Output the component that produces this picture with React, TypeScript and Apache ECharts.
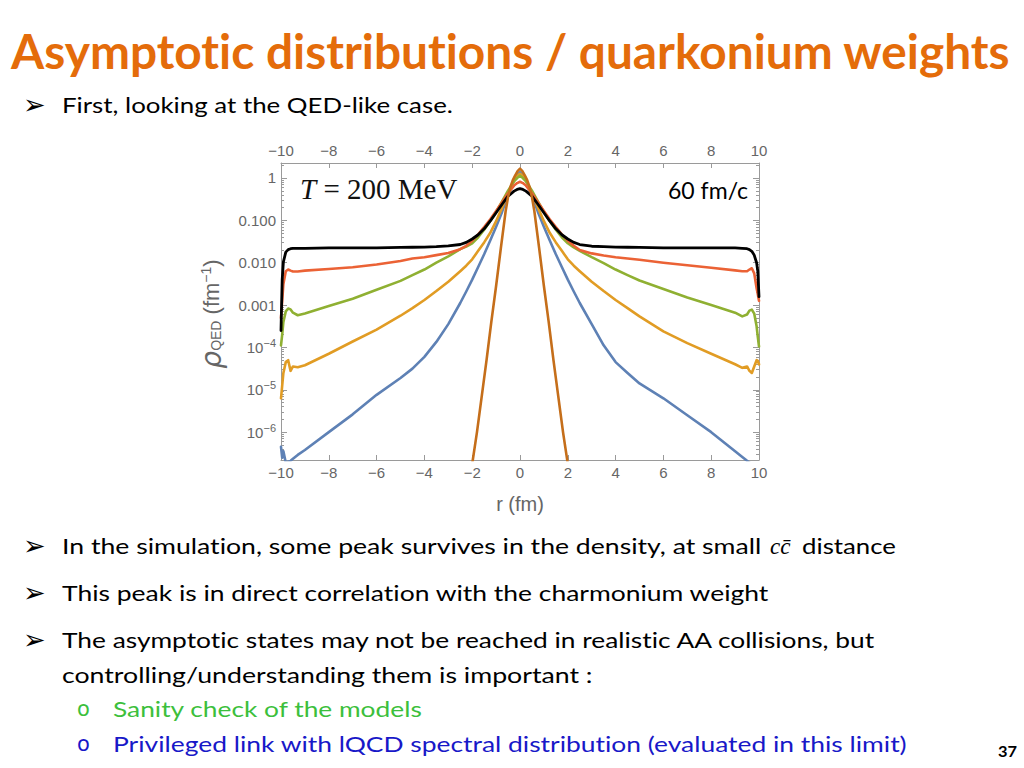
import React, { useEffect, useRef } from 'react';
import * as echarts from 'echarts';

// ---------- data ----------
const rGrid = [-10, -9.95, -9.9, -9.8, -9.7, -9.6, -9.5, -9.3, -9, -8, -7, -6, -5, -4.5, -4, -3.5, -3, -2.5, -2.25, -2, -1.75, -1.5, -1.25, -1, -0.75, -0.5, -0.25, -0.12,
  0,
  0.12, 0.25, 0.5, 0.75, 1, 1.25, 1.5, 1.75, 2, 2.25, 2.5, 3, 3.5, 4, 4.5, 5, 6, 7, 8, 9, 9.3, 9.5, 9.6, 9.7, 9.8, 9.9, 9.95, 10];

const blackVals = [2.5e-4, 4.0e-3, 0.0105, 0.0178, 0.0204, 0.0214, 0.0219, 0.0219, 0.0219, 0.0224, 0.0224, 0.0224, 0.0229, 0.0232, 0.0234, 0.024, 0.0251, 0.0269, 0.0302, 0.0363, 0.0457, 0.0631, 0.0955, 0.151, 0.24, 0.372, 0.49, 0.537,
  0.562,
  0.537, 0.49, 0.372, 0.24, 0.151, 0.0955, 0.0631, 0.0457, 0.0363, 0.0302, 0.0269, 0.0245, 0.024, 0.0234, 0.0232, 0.0229, 0.0224, 0.0224, 0.0224, 0.0224, 0.0219, 0.0214, 0.0204, 0.0186, 0.0151, 0.01, 0.0063, 0.00158];

const redVals = [5.0e-4, 1.26e-3, 3.16e-3, 6.3e-3, 6.9e-3, 6.5e-3, 6.2e-3, 6.2e-3, 6.5e-3, 7.1e-3, 7.8e-3, 9.1e-3, 0.011, 0.0126, 0.0135, 0.0151, 0.017, 0.0209, 0.0251, 0.0331, 0.0468, 0.0692, 0.105, 0.166, 0.269, 0.437, 0.661, 0.759,
  0.813,
  0.759, 0.661, 0.437, 0.269, 0.166, 0.105, 0.0692, 0.0468, 0.0331, 0.0251, 0.02, 0.0166, 0.0148, 0.0135, 0.0126, 0.0117, 0.01, 8.7e-3, 7.6e-3, 6.6e-3, 6.3e-3, 6.3e-3, 6.9e-3, 7.4e-3, 5.6e-3, 2.5e-3, 1.8e-3, 1.26e-3];

const greenVals = [1.12e-4, 2.0e-4, 4.0e-4, 7.1e-4, 8.3e-4, 7.9e-4, 6.6e-4, 5.75e-4, 6.3e-4, 9.55e-4, 1.41e-3, 2.29e-3, 3.72e-3, 5.1e-3, 6.9e-3, 0.01, 0.0141, 0.0209, 0.024, 0.0288, 0.0398, 0.0603, 0.0955, 0.158, 0.282, 0.501, 0.832, 1.0,
  1.122,
  1.0, 0.832, 0.501, 0.282, 0.158, 0.0955, 0.0603, 0.0398, 0.0288, 0.0229, 0.0191, 0.0135, 9.8e-3, 6.9e-3, 5.1e-3, 3.8e-3, 2.4e-3, 1.51e-3, 1.0e-3, 6.6e-4, 5.4e-4, 6.0e-4, 7.4e-4, 7.8e-4, 6.3e-4, 3.16e-4, 1.78e-4, 1.05e-4];

const yellowVals = [6.3e-6, 1.26e-5, 2.5e-5, 4.5e-5, 5.0e-5, 2.8e-5, 3.55e-5, 3.4e-5, 3.8e-5, 7.1e-5, 1.38e-4, 2.63e-4, 5.6e-4, 8.5e-4, 1.32e-3, 2.14e-3, 3.55e-3, 6.3e-3, 8.5e-3, 0.012, 0.0191, 0.0302, 0.0501, 0.0955, 0.2, 0.447, 0.891, 1.096,
  1.26,
  1.096, 0.891, 0.447, 0.2, 0.0955, 0.0501, 0.0302, 0.0191, 0.012, 8.5e-3, 6.3e-3, 3.55e-3, 2.14e-3, 1.32e-3, 8.5e-4, 5.4e-4, 2.4e-4, 1.26e-4, 7.1e-5, 4.0e-5, 3.3e-5, 3.55e-5, 2.8e-5, 2.5e-5, 3.55e-5, 5.0e-5, 4.8e-5, 4.0e-5];

const blueVals = [4.5e-7, 2.5e-7, 3.55e-7, 1.9e-7, 2.0e-7, 2.1e-7, 2.34e-7, 2.9e-7, 3.8e-7, 1.0e-6, 2.63e-6, 7.6e-6, 1.9e-5, 3.16e-5, 6.0e-5, 1.35e-4, 3.55e-4, 1.12e-3, 2.09e-3, 3.98e-3, 7.9e-3, 0.0158, 0.0331, 0.0708, 0.158, 0.398, 0.891, 1.175,
  1.38,
  1.175, 0.891, 0.398, 0.158, 0.0708, 0.0331, 0.0158, 7.9e-3, 3.98e-3, 2.09e-3, 1.12e-3, 3.55e-4, 1.12e-4, 4.5e-5, 2.5e-5, 1.41e-5, 6.3e-6, 2.5e-6, 1.0e-6, 3.55e-7, 2.6e-7, 2.1e-7, 1.9e-7, 1.74e-7, 1.58e-7, 1.45e-7, 1.38e-7, 1.32e-7];

const rBrown = [-2.2, -2.0, -1.8, -1.6, -1.4, -1.2, -1.0, -0.8, -0.6, -0.5, -0.4, -0.3, -0.2, -0.1, 0, 0.1, 0.2, 0.3, 0.4, 0.5, 0.6, 0.8, 1.0, 1.2, 1.4, 1.6, 1.8, 2.0, 2.2];
const brownVals = [3.2e-8, 1.78e-7, 1.0e-6, 7.1e-6, 5.0e-5, 4.0e-4, 2.82e-3, 0.0224, 0.166, 0.355, 0.617, 0.891, 1.148, 1.445,
  1.66,
  1.445, 1.148, 0.891, 0.617, 0.355, 0.166, 0.0224, 2.82e-3, 4.0e-4, 5.0e-5, 7.1e-6, 1.0e-6, 1.78e-7, 3.2e-8];

const yMajor = [1e-6, 1e-5, 1e-4, 1e-3, 1e-2, 1e-1, 1];
const yMajorLabels = ['10{s|−6}', '10{s|−5}', '10{s|−4}', '0.001', '0.010', '0.100', '1'];

const TITLE = 'Asymptotic distributions / quarkonium weights';
const SUB = 'First, looking at the QED-like case.';
const B1a = 'In the simulation, some peak survives in the density, at small';
const B1m = 'cc\u0304';
const B1b = 'distance';
const B2 = 'This peak is in direct correlation with the charmonium weight';
const B3a = 'The asymptotic states may not be reached in realistic AA collisions, but';
const B3b = 'controlling/understanding them is important :';
const S1 = 'Sanity check of the models';
const S2 = 'Privileged link with lQCD spectral distribution (evaluated in this limit)';
const PAGE = '37';

// ---------- style ----------
const Y_MIN = 2.2e-7;
const Y_MAX = 2.26;
const FRAME = '#9a9a9a';
const LBL = '#666666';
const ORANGE = '#E46C0A';
const GREEN = '#3CBF3C';
const BLUE = '#1818C8';
const BODY_FONT = 'Lato';

const yMinor: number[] = [];
for (let d = -7; d <= 0; d++) {
  for (let k = 2; k <= 9; k++) {
    const v = k * Math.pow(10, d);
    if (v >= Y_MIN && v <= Y_MAX) yMinor.push(v);
  }
}

function App() {
  const ref = useRef<HTMLDivElement>(null);

  useEffect(() => {
    if (!ref.current) return;
    const chart = echarts.init(ref.current, undefined, { renderer: 'svg' });

    const ctx = document.createElement('canvas').getContext('2d') as CanvasRenderingContext2D;
    const measure = (text: string, weight: string, size: number, family: string, style = 'normal') => {
      ctx.font = `${style} ${weight} ${size}px ${family}`;
      return ctx.measureText(text).width;
    };
    const fit = (text: string, x0: number, x1: number, y: number, size: number, color = '#000', weight = 'normal', family = BODY_FONT, style = 'normal') => {
      const w = measure(text, weight, size, family, style);
      return {
        type: 'text', x: x0, y, scaleX: (x1 - x0) / w, silent: true,
        style: { text, fontSize: size, fontFamily: family, fontWeight: weight, fontStyle: style, fill: color, align: 'left', verticalAlign: 'middle' },
      };
    };
    const plain = (text: string, x: number, y: number, size: number, color = '#000', align = 'left', family = BODY_FONT, weight = 'normal') => ({
      type: 'text', x, y, silent: true,
      style: { text, fontSize: size, fontFamily: family, fontWeight: weight, fill: color, align, verticalAlign: 'middle' },
    });
    const arrow = (y: number) => plain('\u27A2', 23, y, 27, '#000', 'left', 'DejaVu Sans');

    const graphics: any[] = [
      fit(TITLE, 11, 1012, 51, 47, ORANGE, 'bold'),
      arrow(104), fit(SUB, 62, 453, 104, 22),
      arrow(545), fit(B1a, 62, 762, 545, 22),
      { type: 'text', x: 770, y: 546, silent: true, style: { text: B1m, fontSize: 23, fontFamily: 'Liberation Serif', fontStyle: 'italic', fill: '#000', align: 'left', verticalAlign: 'middle' } },
      fit(B1b, 802, 896, 545, 22),
      arrow(592), fit(B2, 62, 770, 592, 22),
      arrow(639), fit(B3a, 62, 878, 639, 22),
      fit(B3b, 62, 593, 674, 22),
      plain('o', 77, 709, 21, GREEN, 'left', 'DejaVu Sans'), fit(S1, 113, 423, 708, 22, GREEN),
      plain('o', 77, 744, 21, BLUE, 'left', 'DejaVu Sans'), fit(S2, 113, 908, 743, 22, BLUE),
      fit(PAGE, 998, 1017, 751, 16, '#000', 'bold'),
      // chart annotations
      { type: 'text', x: 300, y: 189, silent: true, style: { text: '{i|T} = 200 MeV', fontSize: 29, fontFamily: 'Liberation Serif', fill: '#111', align: 'left', verticalAlign: 'middle', rich: { i: { fontSize: 29, fontFamily: 'Liberation Serif', fontStyle: 'italic', fill: '#111' } } } },
      fit('60 fm/c', 668, 748, 190, 23),
      plain('r (fm)', 520, 504, 20, LBL, 'center', 'Liberation Sans'),
      {
        type: 'text', x: 211, y: 314, rotation: Math.PI / 2, silent: true,
        style: {
          text: '{r|ρ}{q|QED} (fm{s|−1})', fontSize: 22, fontFamily: 'Liberation Sans', fill: LBL, align: 'center', verticalAlign: 'middle',
          rich: {
            r: { fontSize: 28, fontFamily: 'DejaVu Sans', fontStyle: 'italic', fill: LBL },
            q: { fontSize: 14, fontFamily: 'Liberation Sans', fill: LBL, padding: [10, 0, 0, 0] },
            s: { fontSize: 14, fontFamily: 'Liberation Sans', fill: LBL, padding: [0, 0, 10, 0] },
          },
        },
      },
    ];

    const fmtX = (v: number) => (v < 0 ? '\u2212' + Math.abs(v) : String(v));
    const xBase = (pos: string) => ({
      type: 'value', min: -10, max: 10, interval: 2, position: pos,
      axisLine: { show: true, onZero: false, lineStyle: { color: FRAME, width: 1 } },
      axisTick: { show: true, inside: true, length: 5, lineStyle: { color: FRAME } },
      axisLabel: { formatter: fmtX, color: LBL, fontSize: 15, fontFamily: 'Liberation Sans', margin: 5 },
      splitLine: { show: false },
    });
    const yBase = {
      type: 'log', logBase: 10, min: Y_MIN, max: Y_MAX, splitLine: { show: false },
    };
    const yLabelFmt = (v: number) => {
      const i = yMajor.findIndex((m) => Math.abs(Math.log10(m) - Math.log10(v)) < 1e-6);
      return i >= 0 ? yMajorLabels[i] : '';
    };

    const mk = (name: string, xs: number[], ys: number[], color: string, width = 2.6) => ({
      name, type: 'line', xAxisIndex: 0, yAxisIndex: 0,
      data: xs.map((x, i) => [x, ys[i]]),
      showSymbol: false, symbol: 'none', smooth: false,
      lineStyle: { color, width, join: 'round', cap: 'round' }, clip: true, silent: true,
    });

    chart.setOption({
      animation: false,
      backgroundColor: '#ffffff',
      grid: { left: 281, top: 163, width: 478, height: 297, containLabel: false },
      xAxis: [xBase('bottom'), xBase('top')],
      yAxis: [
        {
          ...yBase, position: 'left',
          axisLine: { show: true, onZero: false, lineStyle: { color: FRAME, width: 1 } },
          axisTick: { show: true, inside: true, length: 6, customValues: yMajor, lineStyle: { color: FRAME } },
          axisLabel: {
            customValues: yMajor, formatter: yLabelFmt, color: LBL, fontSize: 15, fontFamily: 'Liberation Sans', margin: 5,
            rich: { s: { fontSize: 11, fontFamily: 'Liberation Sans', color: LBL, padding: [0, 0, 9, 0] } },
          },
        },
        {
          ...yBase, position: 'left',
          axisLine: { show: false, onZero: false },
          axisTick: { show: true, inside: true, length: 3, customValues: yMinor, lineStyle: { color: FRAME } },
          axisLabel: { show: false },
        },
        {
          ...yBase, position: 'right',
          axisLine: { show: true, onZero: false, lineStyle: { color: FRAME, width: 1 } },
          axisTick: { show: true, inside: true, length: 6, customValues: yMajor, lineStyle: { color: FRAME } },
          axisLabel: { show: false },
        },
        {
          ...yBase, position: 'right',
          axisLine: { show: false, onZero: false },
          axisTick: { show: true, inside: true, length: 3, customValues: yMinor, lineStyle: { color: FRAME } },
          axisLabel: { show: false },
        },
      ],
      series: [
        mk('blue', rGrid, blueVals, '#5E81B5'),
        mk('yellow', rGrid, yellowVals, '#E19C24'),
        mk('green', rGrid, greenVals, '#8FB032'),
        mk('red', rGrid, redVals, '#EB6235'),
        mk('black', rGrid, blackVals, '#000000', 2.8),
        mk('brown', rBrown, brownVals, '#C56E1A'),
      ],
      graphic: { elements: graphics },
    });

    return () => chart.dispose();
  }, []);

  return (
    <>
      <style>{'svg text { font-variant-ligatures: none; font-feature-settings: "liga" 0, "clig" 0; }'}</style>
      <div ref={ref} style={{ position: 'absolute', left: 0, top: 0, width: 1024, height: 768, background: '#fff' }} />
    </>
  );
}

export default App;
